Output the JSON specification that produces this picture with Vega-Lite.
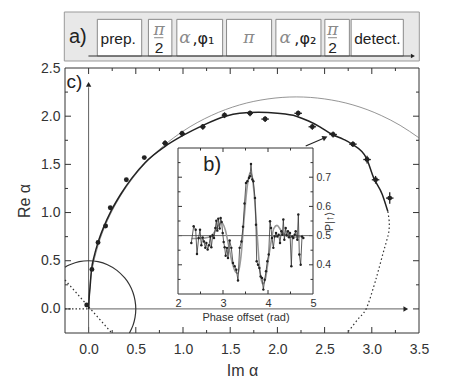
{
  "$schema": "https://vega.github.io/schema/vega-lite/v6.json",
  "width": 450,
  "height": 383,
  "autosize": "none",
  "padding": 0,
  "background": "white",
  "config": {
    "view": {"stroke": null},
    "axis": {"grid": false, "labelFont": "Liberation Sans", "titleFont": "Liberation Sans", "labelColor": "#333", "titleColor": "#333", "titleFontWeight": "normal", "domain": false, "ticks": false, "labelOverlap": false, "labelFlush": false, "zindex": 1},
    "text": {"font": "Liberation Sans"}
  },
  "layer": [
    {
      "layer": [
        {
          "data": {"values": [{"t": 0, "t2": 100, "h": 0, "h2": 10}]},
          "mark": {"type": "rect", "fill": "#e8e8e8", "stroke": "#999", "strokeWidth": 1},
          "encoding": {
            "x": {"field": "t", "type": "quantitative", "scale": {"domain": [0, 100], "range": [64.3, 419.3], "nice": false, "zero": false}, "axis": null},
            "x2": {"field": "t2"},
            "y": {"field": "h", "type": "quantitative", "scale": {"domain": [0, 10], "range": [61, 12], "nice": false, "zero": false}, "axis": null},
            "y2": {"field": "h2"}
          }
        },
        {
          "data": {"values": [
            {"t": 9.3, "t2": 21.8, "h": 1.02, "h2": 8.5},
            {"t": 23.7, "t2": 30.3, "h": 1.02, "h2": 8.5},
            {"t": 31.7, "t2": 44.6, "h": 1.02, "h2": 8.5},
            {"t": 45.7, "t2": 58.4, "h": 1.02, "h2": 8.5},
            {"t": 59.6, "t2": 72.3, "h": 1.02, "h2": 8.5},
            {"t": 73.4, "t2": 80.3, "h": 1.02, "h2": 8.5},
            {"t": 80.8, "t2": 95.5, "h": 1.02, "h2": 8.5}
          ]},
          "mark": {"type": "rect", "fill": "white", "stroke": "#8a8a8a", "strokeWidth": 1},
          "encoding": {
            "x": {"field": "t", "type": "quantitative", "scale": {"domain": [0, 100], "range": [64.3, 419.3], "nice": false, "zero": false}, "axis": null},
            "x2": {"field": "t2"},
            "y": {"field": "h", "type": "quantitative", "scale": {"domain": [0, 10], "range": [61, 12], "nice": false, "zero": false}, "axis": null},
            "y2": {"field": "h2"}
          }
        },
        {
          "data": {"values": [{"t": 6.8, "t2": 97.6, "h": 1.02}]},
          "mark": {"type": "rule", "color": "#333", "strokeWidth": 1},
          "encoding": {
            "x": {"field": "t", "type": "quantitative", "scale": {"domain": [0, 100], "range": [64.3, 419.3], "nice": false, "zero": false}, "axis": null},
            "x2": {"field": "t2"},
            "y": {"field": "h", "type": "quantitative", "scale": {"domain": [0, 10], "range": [61, 12], "nice": false, "zero": false}, "axis": null}
          }
        },
        {
          "data": {"values": [{"t": 98.2, "h": 1.02}]},
          "mark": {"type": "point", "shape": "triangle-right", "filled": true, "color": "#222", "size": 22, "opacity": 1},
          "encoding": {
            "x": {"field": "t", "type": "quantitative", "scale": {"domain": [0, 100], "range": [64.3, 419.3], "nice": false, "zero": false}, "axis": null},
            "y": {"field": "h", "type": "quantitative", "scale": {"domain": [0, 10], "range": [61, 12], "nice": false, "zero": false}, "axis": null}
          }
        },
        {
          "data": {"values": [{"t": 25.3, "t2": 27.9, "h": 4.75}, {"t": 74.3, "t2": 76.8, "h": 4.75}]},
          "mark": {"type": "rule", "color": "#888", "strokeWidth": 1},
          "encoding": {
            "x": {"field": "t", "type": "quantitative", "scale": {"domain": [0, 100], "range": [64.3, 419.3], "nice": false, "zero": false}, "axis": null},
            "x2": {"field": "t2"},
            "y": {"field": "h", "type": "quantitative", "scale": {"domain": [0, 10], "range": [61, 12], "nice": false, "zero": false}, "axis": null}
          }
        },
        {
          "data": {"values": [{"t": 3.8, "h": 3.67, "label": "a)"}]},
          "mark": {"type": "text", "fontSize": 20, "color": "#222", "baseline": "alphabetic", "align": "center"},
          "encoding": {
            "x": {"field": "t", "type": "quantitative", "scale": {"domain": [0, 100], "range": [64.3, 419.3], "nice": false, "zero": false}, "axis": null},
            "y": {"field": "h", "type": "quantitative", "scale": {"domain": [0, 10], "range": [61, 12], "nice": false, "zero": false}, "axis": null},
            "text": {"field": "label"}
          }
        },
        {
          "data": {"values": [{"t": 15.2, "h": 3.47, "label": "prep."}, {"t": 88.2, "h": 3.47, "label": "detect."}, {"t": 26.7, "h": 1.63, "label": "2"}, {"t": 75.6, "h": 1.63, "label": "2"}]},
          "mark": {"type": "text", "fontSize": 15.5, "color": "#222", "baseline": "alphabetic", "align": "center"},
          "encoding": {
            "x": {"field": "t", "type": "quantitative", "scale": {"domain": [0, 100], "range": [64.3, 419.3], "nice": false, "zero": false}, "axis": null},
            "y": {"field": "h", "type": "quantitative", "scale": {"domain": [0, 10], "range": [61, 12], "nice": false, "zero": false}, "axis": null},
            "text": {"field": "label"}
          }
        },
        {
          "data": {"values": [{"t": 39.2, "h": 3.47, "label": ",φ₁"}, {"t": 67.9, "h": 3.47, "label": ",φ₂"}]},
          "mark": {"type": "text", "fontSize": 16, "color": "#222", "baseline": "alphabetic", "align": "center", "font": "DejaVu Sans"},
          "encoding": {
            "x": {"field": "t", "type": "quantitative", "scale": {"domain": [0, 100], "range": [64.3, 419.3], "nice": false, "zero": false}, "axis": null},
            "y": {"field": "h", "type": "quantitative", "scale": {"domain": [0, 10], "range": [61, 12], "nice": false, "zero": false}, "axis": null},
            "text": {"field": "label"}
          }
        },
        {
          "data": {"values": [{"t": 34.0, "h": 3.6, "label": "α"}, {"t": 62.2, "h": 3.6, "label": "α"}, {"t": 52.0, "h": 3.67, "label": "π"}, {"t": 26.7, "h": 5.3, "label": "π"}, {"t": 75.6, "h": 5.3, "label": "π"}]},
          "mark": {"type": "text", "fontSize": 17, "color": "#8a8a8a", "baseline": "alphabetic", "align": "center", "font": "DejaVu Serif", "fontStyle": "italic"},
          "encoding": {
            "x": {"field": "t", "type": "quantitative", "scale": {"domain": [0, 100], "range": [64.3, 419.3], "nice": false, "zero": false}, "axis": null},
            "y": {"field": "h", "type": "quantitative", "scale": {"domain": [0, 10], "range": [61, 12], "nice": false, "zero": false}, "axis": null},
            "text": {"field": "label"}
          }
        }
      ]
    },
    {
      "layer": [
        {
          "data": {"values": [{"im": -0.25, "im2": 3.5, "re": -0.25, "re2": 2.5}]},
          "mark": {"type": "rect", "fill": null, "stroke": "#333", "strokeWidth": 1},
          "encoding": {
            "x": {"field": "im", "type": "quantitative", "scale": {"domain": [-0.25, 3.5], "range": [65, 419], "nice": false, "zero": false}, "axis": null},
            "x2": {"field": "im2"},
            "y": {"field": "re", "type": "quantitative", "scale": {"domain": [-0.25, 2.5], "range": [333, 68], "nice": false, "zero": false}, "axis": null},
            "y2": {"field": "re2"}
          }
        },
        {
          "data": {"values": [{"im": 0}, {"im": 0.5}, {"im": 1}, {"im": 1.5}, {"im": 2}, {"im": 2.5}, {"im": 3}]},
          "mark": {"type": "tick", "orient": "vertical", "size": 6, "thickness": 1, "color": "#333", "opacity": 1, "yOffset": -3},
          "encoding": {
            "x": {"field": "im", "type": "quantitative", "scale": {"domain": [-0.25, 3.5], "range": [65, 419], "nice": false, "zero": false}, "axis": null},
            "y": {"datum": -0.25, "type": "quantitative", "scale": {"domain": [-0.25, 2.5], "range": [333, 68], "nice": false, "zero": false}, "axis": null}
          }
        },
        {
          "data": {"values": [{"im": 0}, {"im": 0.5}, {"im": 1}, {"im": 1.5}, {"im": 2}, {"im": 2.5}, {"im": 3}]},
          "mark": {"type": "tick", "orient": "vertical", "size": 6, "thickness": 1, "color": "#333", "opacity": 1, "yOffset": 3},
          "encoding": {
            "x": {"field": "im", "type": "quantitative", "scale": {"domain": [-0.25, 3.5], "range": [65, 419], "nice": false, "zero": false}, "axis": null},
            "y": {"datum": 2.5, "type": "quantitative", "scale": {"domain": [-0.25, 2.5], "range": [333, 68], "nice": false, "zero": false}, "axis": null}
          }
        },
        {
          "data": {"values": [{"im": 0.25}, {"im": 0.75}, {"im": 1.25}, {"im": 1.75}, {"im": 2.25}, {"im": 2.75}, {"im": 3.25}]},
          "mark": {"type": "tick", "orient": "vertical", "size": 3, "thickness": 1, "color": "#333", "opacity": 1, "yOffset": -1.5},
          "encoding": {
            "x": {"field": "im", "type": "quantitative", "scale": {"domain": [-0.25, 3.5], "range": [65, 419], "nice": false, "zero": false}, "axis": null},
            "y": {"datum": -0.25, "type": "quantitative", "scale": {"domain": [-0.25, 2.5], "range": [333, 68], "nice": false, "zero": false}, "axis": null}
          }
        },
        {
          "data": {"values": [{"im": 0.25}, {"im": 0.75}, {"im": 1.25}, {"im": 1.75}, {"im": 2.25}, {"im": 2.75}, {"im": 3.25}]},
          "mark": {"type": "tick", "orient": "vertical", "size": 3, "thickness": 1, "color": "#333", "opacity": 1, "yOffset": 1.5},
          "encoding": {
            "x": {"field": "im", "type": "quantitative", "scale": {"domain": [-0.25, 3.5], "range": [65, 419], "nice": false, "zero": false}, "axis": null},
            "y": {"datum": 2.5, "type": "quantitative", "scale": {"domain": [-0.25, 2.5], "range": [333, 68], "nice": false, "zero": false}, "axis": null}
          }
        },
        {
          "data": {"values": [{"re": 0}, {"re": 0.5}, {"re": 1}, {"re": 1.5}, {"re": 2}]},
          "mark": {"type": "tick", "orient": "horizontal", "size": 6, "thickness": 1, "color": "#333", "opacity": 1, "xOffset": 3},
          "encoding": {
            "x": {"datum": -0.25, "type": "quantitative", "scale": {"domain": [-0.25, 3.5], "range": [65, 419], "nice": false, "zero": false}, "axis": null},
            "y": {"field": "re", "type": "quantitative", "scale": {"domain": [-0.25, 2.5], "range": [333, 68], "nice": false, "zero": false}, "axis": null}
          }
        },
        {
          "data": {"values": [{"re": 0}, {"re": 0.5}, {"re": 1}, {"re": 1.5}, {"re": 2}]},
          "mark": {"type": "tick", "orient": "horizontal", "size": 6, "thickness": 1, "color": "#333", "opacity": 1, "xOffset": -3},
          "encoding": {
            "x": {"datum": 3.5, "type": "quantitative", "scale": {"domain": [-0.25, 3.5], "range": [65, 419], "nice": false, "zero": false}, "axis": null},
            "y": {"field": "re", "type": "quantitative", "scale": {"domain": [-0.25, 2.5], "range": [333, 68], "nice": false, "zero": false}, "axis": null}
          }
        },
        {
          "data": {"values": [{"re": 0.25}, {"re": 0.75}, {"re": 1.25}, {"re": 1.75}, {"re": 2.25}]},
          "mark": {"type": "tick", "orient": "horizontal", "size": 3, "thickness": 1, "color": "#333", "opacity": 1, "xOffset": 1.5},
          "encoding": {
            "x": {"datum": -0.25, "type": "quantitative", "scale": {"domain": [-0.25, 3.5], "range": [65, 419], "nice": false, "zero": false}, "axis": null},
            "y": {"field": "re", "type": "quantitative", "scale": {"domain": [-0.25, 2.5], "range": [333, 68], "nice": false, "zero": false}, "axis": null}
          }
        },
        {
          "data": {"values": [{"re": 0.25}, {"re": 0.75}, {"re": 1.25}, {"re": 1.75}, {"re": 2.25}]},
          "mark": {"type": "tick", "orient": "horizontal", "size": 3, "thickness": 1, "color": "#333", "opacity": 1, "xOffset": -1.5},
          "encoding": {
            "x": {"datum": 3.5, "type": "quantitative", "scale": {"domain": [-0.25, 3.5], "range": [65, 419], "nice": false, "zero": false}, "axis": null},
            "y": {"field": "re", "type": "quantitative", "scale": {"domain": [-0.25, 2.5], "range": [333, 68], "nice": false, "zero": false}, "axis": null}
          }
        },
        {
          "data": {"values": [{"im": -0.25, "im2": 0, "re": 0}]},
          "mark": {"type": "rule", "color": "#333", "strokeWidth": 1.2, "strokeDash": [1.5, 2]},
          "encoding": {
            "x": {"field": "im", "type": "quantitative", "scale": {"domain": [-0.25, 3.5], "range": [65, 419], "nice": false, "zero": false}, "axis": null},
            "x2": {"field": "im2"},
            "y": {"field": "re", "type": "quantitative", "scale": {"domain": [-0.25, 2.5], "range": [333, 68], "nice": false, "zero": false}, "axis": null}
          }
        },
        {
          "data": {"values": [{"im": 0, "im2": 3.34, "re": 0}]},
          "mark": {"type": "rule", "color": "#808080", "strokeWidth": 1.2},
          "encoding": {
            "x": {"field": "im", "type": "quantitative", "scale": {"domain": [-0.25, 3.5], "range": [65, 419], "nice": false, "zero": false}, "axis": null},
            "x2": {"field": "im2"},
            "y": {"field": "re", "type": "quantitative", "scale": {"domain": [-0.25, 2.5], "range": [333, 68], "nice": false, "zero": false}, "axis": null}
          }
        },
        {
          "data": {"values": [{"im": 0, "re": -0.25, "re2": 2.3}]},
          "mark": {"type": "rule", "color": "#606060", "strokeWidth": 1},
          "encoding": {
            "x": {"field": "im", "type": "quantitative", "scale": {"domain": [-0.25, 3.5], "range": [65, 419], "nice": false, "zero": false}, "axis": null},
            "y": {"field": "re", "type": "quantitative", "scale": {"domain": [-0.25, 2.5], "range": [333, 68], "nice": false, "zero": false}, "axis": null},
            "y2": {"field": "re2"}
          }
        },
        {
          "data": {"values": [{"im": -0.25, "re": 0.3, "im2": 0.245, "re2": -0.25}]},
          "mark": {"type": "rule", "color": "#333", "strokeWidth": 1.2, "strokeDash": [1.5, 2.5]},
          "encoding": {
            "x": {"field": "im", "type": "quantitative", "scale": {"domain": [-0.25, 3.5], "range": [65, 419], "nice": false, "zero": false}, "axis": null},
            "x2": {"field": "im2"},
            "y": {"field": "re", "type": "quantitative", "scale": {"domain": [-0.25, 2.5], "range": [333, 68], "nice": false, "zero": false}, "axis": null},
            "y2": {"field": "re2"}
          }
        },
        {
          "data": {"values": [{"im": 3.36, "re": 0}]},
          "mark": {"type": "point", "shape": "triangle-right", "filled": true, "color": "#222", "size": 30, "opacity": 1},
          "encoding": {
            "x": {"field": "im", "type": "quantitative", "scale": {"domain": [-0.25, 3.5], "range": [65, 419], "nice": false, "zero": false}, "axis": null},
            "y": {"field": "re", "type": "quantitative", "scale": {"domain": [-0.25, 2.5], "range": [333, 68], "nice": false, "zero": false}, "axis": null}
          }
        },
        {
          "data": {"values": [{"im": 0, "re": 2.33}]},
          "mark": {"type": "point", "shape": "triangle-up", "filled": true, "color": "#222", "size": 30, "opacity": 1},
          "encoding": {
            "x": {"field": "im", "type": "quantitative", "scale": {"domain": [-0.25, 3.5], "range": [65, 419], "nice": false, "zero": false}, "axis": null},
            "y": {"field": "re", "type": "quantitative", "scale": {"domain": [-0.25, 2.5], "range": [333, 68], "nice": false, "zero": false}, "axis": null}
          }
        },
        {
          "data": {"values": [{"im": 2.30, "re": 1.69, "im2": 2.49, "re2": 1.772}]},
          "mark": {"type": "rule", "color": "#222", "strokeWidth": 1.1},
          "encoding": {
            "x": {"field": "im", "type": "quantitative", "scale": {"domain": [-0.25, 3.5], "range": [65, 419], "nice": false, "zero": false}, "axis": null},
            "x2": {"field": "im2"},
            "y": {"field": "re", "type": "quantitative", "scale": {"domain": [-0.25, 2.5], "range": [333, 68], "nice": false, "zero": false}, "axis": null},
            "y2": {"field": "re2"}
          }
        },
        {
          "data": {"values": [{"im": 2.505, "re": 1.778}]},
          "mark": {"type": "point", "shape": "triangle-up", "filled": true, "color": "#222", "size": 35, "angle": 66, "opacity": 1},
          "encoding": {
            "x": {"field": "im", "type": "quantitative", "scale": {"domain": [-0.25, 3.5], "range": [65, 419], "nice": false, "zero": false}, "axis": null},
            "y": {"field": "re", "type": "quantitative", "scale": {"domain": [-0.25, 2.5], "range": [333, 68], "nice": false, "zero": false}, "axis": null}
          }
        },
        {
          "data": {"values": [
            {"i": 1, "im": -0.25, "re": 0.433}, {"i": 2, "im": -0.2, "re": 0.458}, {"i": 3, "im": -0.1, "re": 0.49}, {"i": 4, "im": 0, "re": 0.5},
            {"i": 5, "im": 0.1, "re": 0.49}, {"i": 6, "im": 0.2, "re": 0.458}, {"i": 7, "im": 0.3, "re": 0.4}, {"i": 8, "im": 0.383, "re": 0.321},
            {"i": 9, "im": 0.433, "re": 0.25}, {"i": 10, "im": 0.47, "re": 0.171}, {"i": 11, "im": 0.492, "re": 0.087}, {"i": 12, "im": 0.5, "re": 0},
            {"i": 13, "im": 0.492, "re": -0.087}, {"i": 14, "im": 0.47, "re": -0.171}, {"i": 15, "im": 0.433, "re": -0.25}
          ]},
          "mark": {"type": "line", "color": "#333", "strokeWidth": 1.2, "interpolate": "cardinal"},
          "encoding": {
            "x": {"field": "im", "type": "quantitative", "scale": {"domain": [-0.25, 3.5], "range": [65, 419], "nice": false, "zero": false}, "axis": null},
            "y": {"field": "re", "type": "quantitative", "scale": {"domain": [-0.25, 2.5], "range": [333, 68], "nice": false, "zero": false}, "axis": null},
            "order": {"field": "i", "type": "quantitative"}
          }
        },
        {
          "data": {"values": [
            {"im": 0, "re": 0}, {"im": 0.02, "re": 0.296}, {"im": 0.05, "re": 0.466}, {"im": 0.1, "re": 0.656}, {"im": 0.2, "re": 0.917},
            {"im": 0.3, "re": 1.109}, {"im": 0.45, "re": 1.333}, {"im": 0.6, "re": 1.51}, {"im": 0.8, "re": 1.697}, {"im": 1.0, "re": 1.844},
            {"im": 1.3, "re": 2.007}, {"im": 1.6, "re": 2.117}, {"im": 1.9, "re": 2.179}, {"im": 2.2, "re": 2.2}, {"im": 2.5, "re": 2.179},
            {"im": 2.8, "re": 2.117}, {"im": 3.1, "re": 2.007}, {"im": 3.3, "re": 1.905}, {"im": 3.5, "re": 1.775}
          ]},
          "mark": {"type": "line", "color": "#7a7a7a", "strokeWidth": 0.8, "interpolate": "monotone"},
          "encoding": {
            "x": {"field": "im", "type": "quantitative", "scale": {"domain": [-0.25, 3.5], "range": [65, 419], "nice": false, "zero": false}, "axis": null},
            "y": {"field": "re", "type": "quantitative", "scale": {"domain": [-0.25, 2.5], "range": [333, 68], "nice": false, "zero": false}, "axis": null}
          }
        },
        {
          "data": {"values": [
            {"im": 0, "re": 0}, {"im": 0.005, "re": 0.1}, {"im": 0.015, "re": 0.22}, {"im": 0.03, "re": 0.4}, {"im": 0.06, "re": 0.55},
            {"im": 0.1, "re": 0.69}, {"im": 0.16, "re": 0.85}, {"im": 0.24, "re": 1.02}, {"im": 0.34, "re": 1.19}, {"im": 0.46, "re": 1.36},
            {"im": 0.6, "re": 1.52}, {"im": 0.8, "re": 1.68}, {"im": 1.0, "re": 1.8}, {"im": 1.2, "re": 1.9}, {"im": 1.45, "re": 2.0},
            {"im": 1.6, "re": 2.03}, {"im": 1.8, "re": 2.04}, {"im": 2.0, "re": 2.03}, {"im": 2.2, "re": 2.0}, {"im": 2.33, "re": 1.95},
            {"im": 2.45, "re": 1.89}, {"im": 2.58, "re": 1.81}, {"im": 2.7, "re": 1.76}, {"im": 2.79, "re": 1.71}, {"im": 2.94, "re": 1.57},
            {"im": 3.02, "re": 1.36}, {"im": 3.11, "re": 1.19}, {"im": 3.17, "re": 1.01}
          ]},
          "mark": {"type": "line", "color": "#222", "strokeWidth": 1.5, "interpolate": "monotone"},
          "encoding": {
            "x": {"field": "im", "type": "quantitative", "scale": {"domain": [-0.25, 3.5], "range": [65, 419], "nice": false, "zero": false}, "axis": null},
            "y": {"field": "re", "type": "quantitative", "scale": {"domain": [-0.25, 2.5], "range": [333, 68], "nice": false, "zero": false}, "axis": null}
          }
        },
        {
          "data": {"values": [
            {"i": 1, "im": 3.17, "re": 1.01}, {"i": 2, "im": 3.185, "re": 0.9}, {"i": 3, "im": 3.18, "re": 0.8}, {"i": 4, "im": 3.155, "re": 0.7},
            {"i": 5, "im": 3.12, "re": 0.58}, {"i": 6, "im": 3.07, "re": 0.4}, {"i": 7, "im": 3.02, "re": 0.23}, {"i": 8, "im": 2.94, "re": 0},
            {"i": 9, "im": 2.85, "re": -0.11}, {"i": 10, "im": 2.74, "re": -0.25}
          ]},
          "mark": {"type": "line", "color": "#333", "strokeWidth": 1.2, "strokeDash": [1.5, 2.5], "interpolate": "cardinal"},
          "encoding": {
            "x": {"field": "im", "type": "quantitative", "scale": {"domain": [-0.25, 3.5], "range": [65, 419], "nice": false, "zero": false}, "axis": null},
            "y": {"field": "re", "type": "quantitative", "scale": {"domain": [-0.25, 2.5], "range": [333, 68], "nice": false, "zero": false}, "axis": null},
            "order": {"field": "i", "type": "quantitative"}
          }
        },
        {
          "data": {"values": [
            {"re": 1.72, "imlo": 0.78, "imhi": 0.84}, {"re": 1.82, "imlo": 0.96, "imhi": 1.02}, {"re": 1.89, "imlo": 1.18, "imhi": 1.24},
            {"re": 2.01, "imlo": 1.41, "imhi": 1.47}, {"re": 2.03, "imlo": 1.68, "imhi": 1.74}, {"re": 1.97, "imlo": 1.83, "imhi": 1.91},
            {"re": 2.03, "imlo": 2.18, "imhi": 2.26}, {"re": 1.89, "imlo": 2.33, "imhi": 2.41}, {"re": 1.81, "imlo": 2.55, "imhi": 2.63},
            {"re": 1.71, "imlo": 2.76, "imhi": 2.84}, {"re": 1.55, "imlo": 2.91, "imhi": 2.99}, {"re": 1.34, "imlo": 3.0, "imhi": 3.08},
            {"re": 1.15, "imlo": 3.15, "imhi": 3.23}
          ]},
          "mark": {"type": "rule", "color": "#222", "strokeWidth": 1.3},
          "encoding": {
            "x": {"field": "imlo", "type": "quantitative", "scale": {"domain": [-0.25, 3.5], "range": [65, 419], "nice": false, "zero": false}, "axis": null},
            "x2": {"field": "imhi"},
            "y": {"field": "re", "type": "quantitative", "scale": {"domain": [-0.25, 2.5], "range": [333, 68], "nice": false, "zero": false}, "axis": null}
          }
        },
        {
          "data": {"values": [
            {"im": 0.81, "relo": 1.69, "rehi": 1.75}, {"im": 0.99, "relo": 1.79, "rehi": 1.85}, {"im": 1.21, "relo": 1.86, "rehi": 1.92},
            {"im": 1.44, "relo": 1.98, "rehi": 2.04}, {"im": 1.71, "relo": 2.0, "rehi": 2.06}, {"im": 1.87, "relo": 1.94, "rehi": 2.0},
            {"im": 2.22, "relo": 2.0, "rehi": 2.06}, {"im": 2.37, "relo": 1.86, "rehi": 1.92}, {"im": 2.59, "relo": 1.78, "rehi": 1.84},
            {"im": 2.8, "relo": 1.68, "rehi": 1.74}, {"im": 2.95, "relo": 1.51, "rehi": 1.59}, {"im": 3.04, "relo": 1.3, "rehi": 1.38},
            {"im": 3.19, "relo": 1.09, "rehi": 1.21}
          ]},
          "mark": {"type": "rule", "color": "#222", "strokeWidth": 1.3},
          "encoding": {
            "x": {"field": "im", "type": "quantitative", "scale": {"domain": [-0.25, 3.5], "range": [65, 419], "nice": false, "zero": false}, "axis": null},
            "y": {"field": "relo", "type": "quantitative", "scale": {"domain": [-0.25, 2.5], "range": [333, 68], "nice": false, "zero": false}, "axis": null},
            "y2": {"field": "rehi"}
          }
        },
        {
          "data": {"values": [
            {"im": -0.02, "re": 0.04}, {"im": 0.035, "re": 0.41}, {"im": 0.1, "re": 0.69}, {"im": 0.18, "re": 0.86}, {"im": 0.23, "re": 1.05},
            {"im": 0.4, "re": 1.34}, {"im": 0.59, "re": 1.57}, {"im": 0.81, "re": 1.72}, {"im": 0.99, "re": 1.82}, {"im": 1.21, "re": 1.89},
            {"im": 1.44, "re": 2.01}, {"im": 1.71, "re": 2.03}, {"im": 1.87, "re": 1.97}, {"im": 2.22, "re": 2.03}, {"im": 2.37, "re": 1.89},
            {"im": 2.59, "re": 1.81}, {"im": 2.8, "re": 1.71}, {"im": 2.95, "re": 1.55}, {"im": 3.04, "re": 1.34}, {"im": 3.19, "re": 1.15}
          ]},
          "mark": {"type": "point", "shape": "circle", "filled": true, "color": "#222", "size": 24, "opacity": 1},
          "encoding": {
            "x": {"field": "im", "type": "quantitative", "scale": {"domain": [-0.25, 3.5], "range": [65, 419], "nice": false, "zero": false},
              "axis": {"orient": "bottom", "offset": -50, "values": [0, 0.5, 1, 1.5, 2, 2.5, 3, 3.5], "format": ".1f",
                "labelPadding": 9, "labelFontSize": 14, "title": "Im  α", "titleFontSize": 16, "titlePadding": 6}},
            "y": {"field": "re", "type": "quantitative", "scale": {"domain": [-0.25, 2.5], "range": [333, 68], "nice": false, "zero": false},
              "axis": {"orient": "left", "offset": -65, "values": [0, 0.5, 1, 1.5, 2, 2.5], "format": ".1f",
                "labelPadding": 5, "labelFontSize": 14, "title": "Re  α", "titleFontSize": 16, "titlePadding": 8}}
          }
        },
        {
          "data": {"values": [{"im": -0.15, "re": 2.35, "label": "c)"}]},
          "mark": {"type": "text", "fontSize": 19, "color": "#222", "baseline": "middle", "align": "center"},
          "encoding": {
            "x": {"field": "im", "type": "quantitative", "scale": {"domain": [-0.25, 3.5], "range": [65, 419], "nice": false, "zero": false}, "axis": null},
            "y": {"field": "re", "type": "quantitative", "scale": {"domain": [-0.25, 2.5], "range": [333, 68], "nice": false, "zero": false}, "axis": null},
            "text": {"field": "label"}
          }
        }
      ],
      "resolve": {"axis": {"x": "independent", "y": "independent"}}
    },
    {
      "layer": [
        {
          "data": {"values": [{"ph": 2, "ph2": 5, "p": 0.3, "p2": 0.8}]},
          "mark": {"type": "rect", "fill": "white", "stroke": "#333", "strokeWidth": 1},
          "encoding": {
            "x": {"field": "ph", "type": "quantitative", "scale": {"domain": [2, 5], "range": [178, 313], "nice": false, "zero": false}, "axis": null},
            "x2": {"field": "ph2"},
            "y": {"field": "p", "type": "quantitative", "scale": {"domain": [0.3, 0.8], "range": [294, 148], "nice": false, "zero": false}, "axis": null},
            "y2": {"field": "p2"}
          }
        },
        {
          "data": {"values": [{"ph": 3}, {"ph": 4}]},
          "mark": {"type": "tick", "orient": "vertical", "size": 4, "thickness": 1, "color": "#333", "opacity": 1, "yOffset": -2},
          "encoding": {
            "x": {"field": "ph", "type": "quantitative", "scale": {"domain": [2, 5], "range": [178, 313], "nice": false, "zero": false}, "axis": null},
            "y": {"datum": 0.3, "type": "quantitative", "scale": {"domain": [0.3, 0.8], "range": [294, 148], "nice": false, "zero": false}, "axis": null}
          }
        },
        {
          "data": {"values": [{"ph": 3}, {"ph": 4}]},
          "mark": {"type": "tick", "orient": "vertical", "size": 4, "thickness": 1, "color": "#333", "opacity": 1, "yOffset": 2},
          "encoding": {
            "x": {"field": "ph", "type": "quantitative", "scale": {"domain": [2, 5], "range": [178, 313], "nice": false, "zero": false}, "axis": null},
            "y": {"datum": 0.8, "type": "quantitative", "scale": {"domain": [0.3, 0.8], "range": [294, 148], "nice": false, "zero": false}, "axis": null}
          }
        },
        {
          "data": {"values": [{"ph": 2.5}, {"ph": 3.5}, {"ph": 4.5}]},
          "mark": {"type": "tick", "orient": "vertical", "size": 2.5, "thickness": 1, "color": "#333", "opacity": 1, "yOffset": -1.25},
          "encoding": {
            "x": {"field": "ph", "type": "quantitative", "scale": {"domain": [2, 5], "range": [178, 313], "nice": false, "zero": false}, "axis": null},
            "y": {"datum": 0.3, "type": "quantitative", "scale": {"domain": [0.3, 0.8], "range": [294, 148], "nice": false, "zero": false}, "axis": null}
          }
        },
        {
          "data": {"values": [{"ph": 2.5}, {"ph": 3.5}, {"ph": 4.5}]},
          "mark": {"type": "tick", "orient": "vertical", "size": 2.5, "thickness": 1, "color": "#333", "opacity": 1, "yOffset": 1.25},
          "encoding": {
            "x": {"field": "ph", "type": "quantitative", "scale": {"domain": [2, 5], "range": [178, 313], "nice": false, "zero": false}, "axis": null},
            "y": {"datum": 0.8, "type": "quantitative", "scale": {"domain": [0.3, 0.8], "range": [294, 148], "nice": false, "zero": false}, "axis": null}
          }
        },
        {
          "data": {"values": [{"p": 0.4}, {"p": 0.5}, {"p": 0.6}, {"p": 0.7}]},
          "mark": {"type": "tick", "orient": "horizontal", "size": 4, "thickness": 1, "color": "#333", "opacity": 1, "xOffset": 2},
          "encoding": {
            "x": {"datum": 2, "type": "quantitative", "scale": {"domain": [2, 5], "range": [178, 313], "nice": false, "zero": false}, "axis": null},
            "y": {"field": "p", "type": "quantitative", "scale": {"domain": [0.3, 0.8], "range": [294, 148], "nice": false, "zero": false}, "axis": null}
          }
        },
        {
          "data": {"values": [{"p": 0.4}, {"p": 0.5}, {"p": 0.6}, {"p": 0.7}]},
          "mark": {"type": "tick", "orient": "horizontal", "size": 4, "thickness": 1, "color": "#333", "opacity": 1, "xOffset": -2},
          "encoding": {
            "x": {"datum": 5, "type": "quantitative", "scale": {"domain": [2, 5], "range": [178, 313], "nice": false, "zero": false}, "axis": null},
            "y": {"field": "p", "type": "quantitative", "scale": {"domain": [0.3, 0.8], "range": [294, 148], "nice": false, "zero": false}, "axis": null}
          }
        },
        {
          "data": {"values": [{"p": 0.35}, {"p": 0.45}, {"p": 0.55}, {"p": 0.65}, {"p": 0.75}]},
          "mark": {"type": "tick", "orient": "horizontal", "size": 2.5, "thickness": 1, "color": "#333", "opacity": 1, "xOffset": 1.25},
          "encoding": {
            "x": {"datum": 2, "type": "quantitative", "scale": {"domain": [2, 5], "range": [178, 313], "nice": false, "zero": false}, "axis": null},
            "y": {"field": "p", "type": "quantitative", "scale": {"domain": [0.3, 0.8], "range": [294, 148], "nice": false, "zero": false}, "axis": null}
          }
        },
        {
          "data": {"values": [{"p": 0.35}, {"p": 0.45}, {"p": 0.55}, {"p": 0.65}, {"p": 0.75}]},
          "mark": {"type": "tick", "orient": "horizontal", "size": 2.5, "thickness": 1, "color": "#333", "opacity": 1, "xOffset": -1.25},
          "encoding": {
            "x": {"datum": 5, "type": "quantitative", "scale": {"domain": [2, 5], "range": [178, 313], "nice": false, "zero": false}, "axis": null},
            "y": {"field": "p", "type": "quantitative", "scale": {"domain": [0.3, 0.8], "range": [294, 148], "nice": false, "zero": false}, "axis": null}
          }
        },
        {
          "data": {"values": [{"ph": 2, "ph2": 5, "p": 0.5}]},
          "mark": {"type": "rule", "color": "#666", "strokeWidth": 1},
          "encoding": {
            "x": {"field": "ph", "type": "quantitative", "scale": {"domain": [2, 5], "range": [178, 313], "nice": false, "zero": false}, "axis": null},
            "x2": {"field": "ph2"},
            "y": {"field": "p", "type": "quantitative", "scale": {"domain": [0.3, 0.8], "range": [294, 148], "nice": false, "zero": false}, "axis": null}
          }
        },
        {
          "data": {"values": [
            {"ph": 2.3, "p": 0.49}, {"ph": 2.5, "p": 0.49}, {"ph": 2.7, "p": 0.495}, {"ph": 2.8, "p": 0.51}, {"ph": 2.9, "p": 0.535},
            {"ph": 2.97, "p": 0.545}, {"ph": 3.05, "p": 0.52}, {"ph": 3.12, "p": 0.47}, {"ph": 3.2, "p": 0.41}, {"ph": 3.28, "p": 0.375},
            {"ph": 3.33, "p": 0.37}, {"ph": 3.4, "p": 0.43}, {"ph": 3.47, "p": 0.56}, {"ph": 3.54, "p": 0.67}, {"ph": 3.6, "p": 0.715},
            {"ph": 3.65, "p": 0.7}, {"ph": 3.7, "p": 0.63}, {"ph": 3.76, "p": 0.5}, {"ph": 3.82, "p": 0.38}, {"ph": 3.88, "p": 0.335},
            {"ph": 3.94, "p": 0.35}, {"ph": 4.0, "p": 0.41}, {"ph": 4.07, "p": 0.48}, {"ph": 4.13, "p": 0.525}, {"ph": 4.2, "p": 0.535},
            {"ph": 4.28, "p": 0.52}, {"ph": 4.36, "p": 0.505}, {"ph": 4.5, "p": 0.495}, {"ph": 4.65, "p": 0.495}, {"ph": 4.78, "p": 0.5}
          ]},
          "mark": {"type": "line", "color": "#9a9a9a", "strokeWidth": 1.6, "interpolate": "monotone"},
          "encoding": {
            "x": {"field": "ph", "type": "quantitative", "scale": {"domain": [2, 5], "range": [178, 313], "nice": false, "zero": false},
              "axis": {"orient": "bottom", "offset": -89, "values": [2, 3, 4, 5], "format": "d",
                "labelPadding": 3, "labelFontSize": 11, "title": "Phase offset (rad)", "titleFontSize": 11, "titlePadding": 3}},
            "y": {"field": "p", "type": "quantitative", "scale": {"domain": [0.3, 0.8], "range": [294, 148], "nice": false, "zero": false}, "axis": null}
          }
        },
        {
          "data": {"values": [
            {"ph": 2.296, "p": 0.475}, {"ph": 2.348, "p": 0.532}, {"ph": 2.393, "p": 0.52}, {"ph": 2.422, "p": 0.437}, {"ph": 2.459, "p": 0.492},
            {"ph": 2.489, "p": 0.52}, {"ph": 2.519, "p": 0.467}, {"ph": 2.548, "p": 0.494}, {"ph": 2.578, "p": 0.48}, {"ph": 2.607, "p": 0.458},
            {"ph": 2.63, "p": 0.475}, {"ph": 2.659, "p": 0.452}, {"ph": 2.689, "p": 0.467}, {"ph": 2.719, "p": 0.497}, {"ph": 2.741, "p": 0.46},
            {"ph": 2.77, "p": 0.501}, {"ph": 2.8, "p": 0.492}, {"ph": 2.83, "p": 0.526}, {"ph": 2.852, "p": 0.551}, {"ph": 2.874, "p": 0.517},
            {"ph": 2.896, "p": 0.558}, {"ph": 2.926, "p": 0.524}, {"ph": 2.948, "p": 0.56}, {"ph": 2.97, "p": 0.547}, {"ph": 2.993, "p": 0.509},
            {"ph": 3.015, "p": 0.478}, {"ph": 3.037, "p": 0.46}, {"ph": 3.059, "p": 0.431}, {"ph": 3.089, "p": 0.458}, {"ph": 3.111, "p": 0.423},
            {"ph": 3.148, "p": 0.483}, {"ph": 3.185, "p": 0.458}, {"ph": 3.222, "p": 0.406}, {"ph": 3.259, "p": 0.395}, {"ph": 3.296, "p": 0.383},
            {"ph": 3.333, "p": 0.346}, {"ph": 3.37, "p": 0.458}, {"ph": 3.41, "p": 0.48}, {"ph": 3.445, "p": 0.53}, {"ph": 3.478, "p": 0.61},
            {"ph": 3.511, "p": 0.68}, {"ph": 3.541, "p": 0.686}, {"ph": 3.578, "p": 0.697}, {"ph": 3.6, "p": 0.703}, {"ph": 3.622, "p": 0.745},
            {"ph": 3.652, "p": 0.692}, {"ph": 3.674, "p": 0.686}, {"ph": 3.711, "p": 0.629}, {"ph": 3.733, "p": 0.537}, {"ph": 3.748, "p": 0.412},
            {"ph": 3.778, "p": 0.4}, {"ph": 3.808, "p": 0.389}, {"ph": 3.837, "p": 0.36}, {"ph": 3.867, "p": 0.355}, {"ph": 3.897, "p": 0.315},
            {"ph": 3.926, "p": 0.349}, {"ph": 3.956, "p": 0.378}, {"ph": 3.985, "p": 0.412}, {"ph": 4.015, "p": 0.435}, {"ph": 4.045, "p": 0.549},
            {"ph": 4.067, "p": 0.526}, {"ph": 4.089, "p": 0.492}, {"ph": 4.119, "p": 0.458}, {"ph": 4.148, "p": 0.497}, {"ph": 4.178, "p": 0.509},
            {"ph": 4.207, "p": 0.497}, {"ph": 4.237, "p": 0.503}, {"ph": 4.267, "p": 0.475}, {"ph": 4.296, "p": 0.515}, {"ph": 4.319, "p": 0.503},
            {"ph": 4.341, "p": 0.555}, {"ph": 4.363, "p": 0.486}, {"ph": 4.393, "p": 0.526}, {"ph": 4.415, "p": 0.501}, {"ph": 4.444, "p": 0.515},
            {"ph": 4.467, "p": 0.494}, {"ph": 4.489, "p": 0.509}, {"ph": 4.519, "p": 0.395}, {"ph": 4.541, "p": 0.497}, {"ph": 4.563, "p": 0.492},
            {"ph": 4.593, "p": 0.503}, {"ph": 4.615, "p": 0.515}, {"ph": 4.652, "p": 0.486}, {"ph": 4.674, "p": 0.572}, {"ph": 4.696, "p": 0.435},
            {"ph": 4.726, "p": 0.4}, {"ph": 4.756, "p": 0.497}, {"ph": 4.785, "p": 0.492}
          ]},
          "mark": {"type": "line", "color": "#333", "strokeWidth": 0.8, "point": {"filled": true, "size": 6, "color": "#222"}},
          "encoding": {
            "x": {"field": "ph", "type": "quantitative", "scale": {"domain": [2, 5], "range": [178, 313], "nice": false, "zero": false}, "axis": null},
            "y": {"field": "p", "type": "quantitative", "scale": {"domain": [0.3, 0.8], "range": [294, 148], "nice": false, "zero": false},
              "axis": {"orient": "right", "offset": -137, "values": [0.4, 0.5, 0.6, 0.7], "format": ".1f",
                "labelPadding": 3, "labelFontSize": 10.5, "title": "P|↑⟩", "titleFontSize": 11, "titleAngle": 270, "titlePadding": 4}}
          }
        },
        {
          "data": {"values": [{"ph": 2.76, "p": 0.742, "label": "b)"}]},
          "mark": {"type": "text", "fontSize": 20, "color": "#222", "baseline": "middle", "align": "center"},
          "encoding": {
            "x": {"field": "ph", "type": "quantitative", "scale": {"domain": [2, 5], "range": [178, 313], "nice": false, "zero": false}, "axis": null},
            "y": {"field": "p", "type": "quantitative", "scale": {"domain": [0.3, 0.8], "range": [294, 148], "nice": false, "zero": false}, "axis": null},
            "text": {"field": "label"}
          }
        }
      ],
      "resolve": {"axis": {"x": "independent", "y": "independent"}}
    }
  ],
  "resolve": {"scale": {"x": "independent", "y": "independent"}}
}
